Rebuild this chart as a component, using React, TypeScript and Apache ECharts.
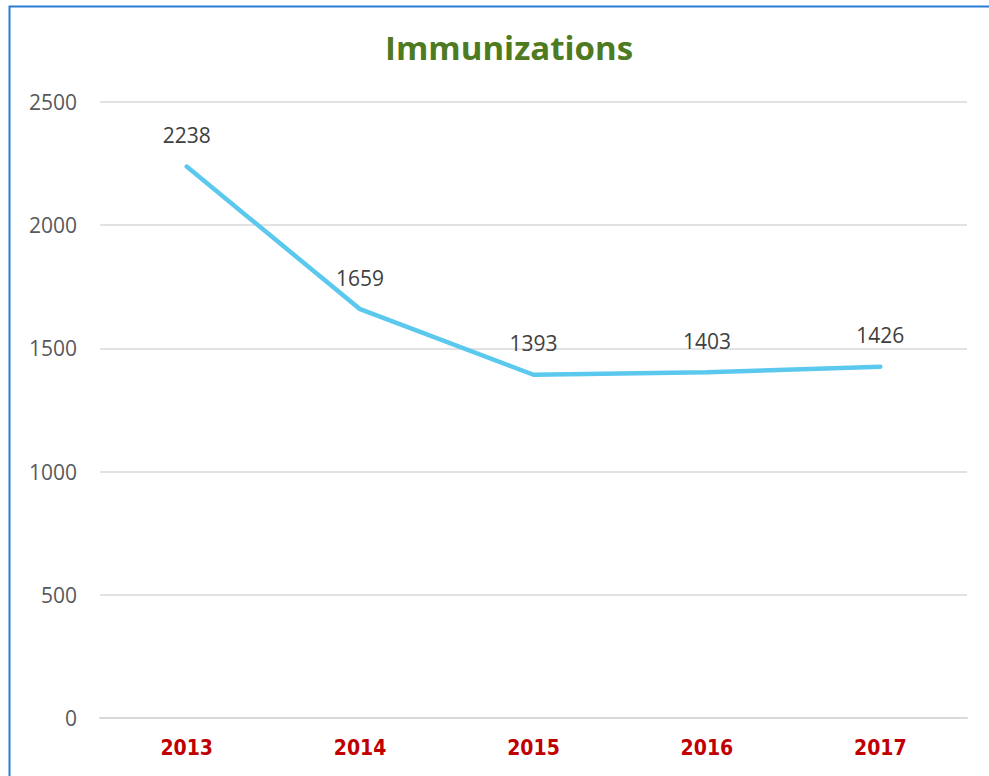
import React, { useEffect, useRef } from "react";
import * as echarts from "echarts";

const years = ["2013", "2014", "2015", "2016", "2017"];
const immunizations = [2238, 1659, 1393, 1403, 1426];
const yTicks = { min: 0, max: 2500, interval: 500 };

export default function App() {
  const ref = useRef<HTMLDivElement>(null);
  useEffect(() => {
    const chart = echarts.init(ref.current!, undefined, { renderer: "svg" });
    chart.setOption({
      animation: false,
      backgroundColor: "#ffffff",
      title: {
        text: "Immunizations",
        left: 380,
        top: 26,
        textStyle: { fontFamily: "Open Sans", fontWeight: "bold", fontSize: 33, color: "#4E7A21" },
      },
      graphic: [
        {
          type: "rect",
          shape: { x: 9.5, y: 6.5, width: 1100, height: 900 },
          style: { fill: "none", stroke: "#2B7CD3", lineWidth: 2 },
          silent: true,
        },
      ],
      grid: { left: 100, right: 22, top: 102, bottom: 58 },
      xAxis: {
        type: "category",
        data: years,
        boundaryGap: true,
        axisLine: { show: true, lineStyle: { color: "#d9d9d9", width: 2 } },
        axisTick: { show: false },
        axisLabel: {
          color: "#C00000",
          fontWeight: "bold",
          fontSize: 21,
          fontFamily: "DejaVu Sans Condensed",
          margin: 19,
        },
      },
      yAxis: {
        type: "value",
        min: yTicks.min,
        max: yTicks.max,
        interval: yTicks.interval,
        axisLine: { show: false },
        axisTick: { show: false },
        splitLine: { lineStyle: { color: "#d9d9d9", width: 1.5 } },
        axisLabel: {
          color: "#595959",
          fontSize: 21,
          fontFamily: "Open Sans",
          margin: 23,
          formatter: (v: number) => String(v),
        },
      },
      series: [
        {
          type: "line",
          data: immunizations,
          symbol: "circle",
          symbolSize: 2,
          showSymbol: true,
          itemStyle: { color: "#5BC8EE" },
          lineStyle: { color: "#5BC8EE", width: 4.5, cap: "round" },
          label: {
            show: true,
            position: "top",
            distance: 20,
            color: "#404040",
            opacity: 1,
            fontSize: 21,
            fontFamily: "Open Sans",
          },
        },
      ],
    });
    return () => chart.dispose();
  }, []);
  return (
    <div
      ref={ref}
      style={{ position: "absolute", left: 0, top: 0, width: 989, height: 776 }}
    />
  );
}
